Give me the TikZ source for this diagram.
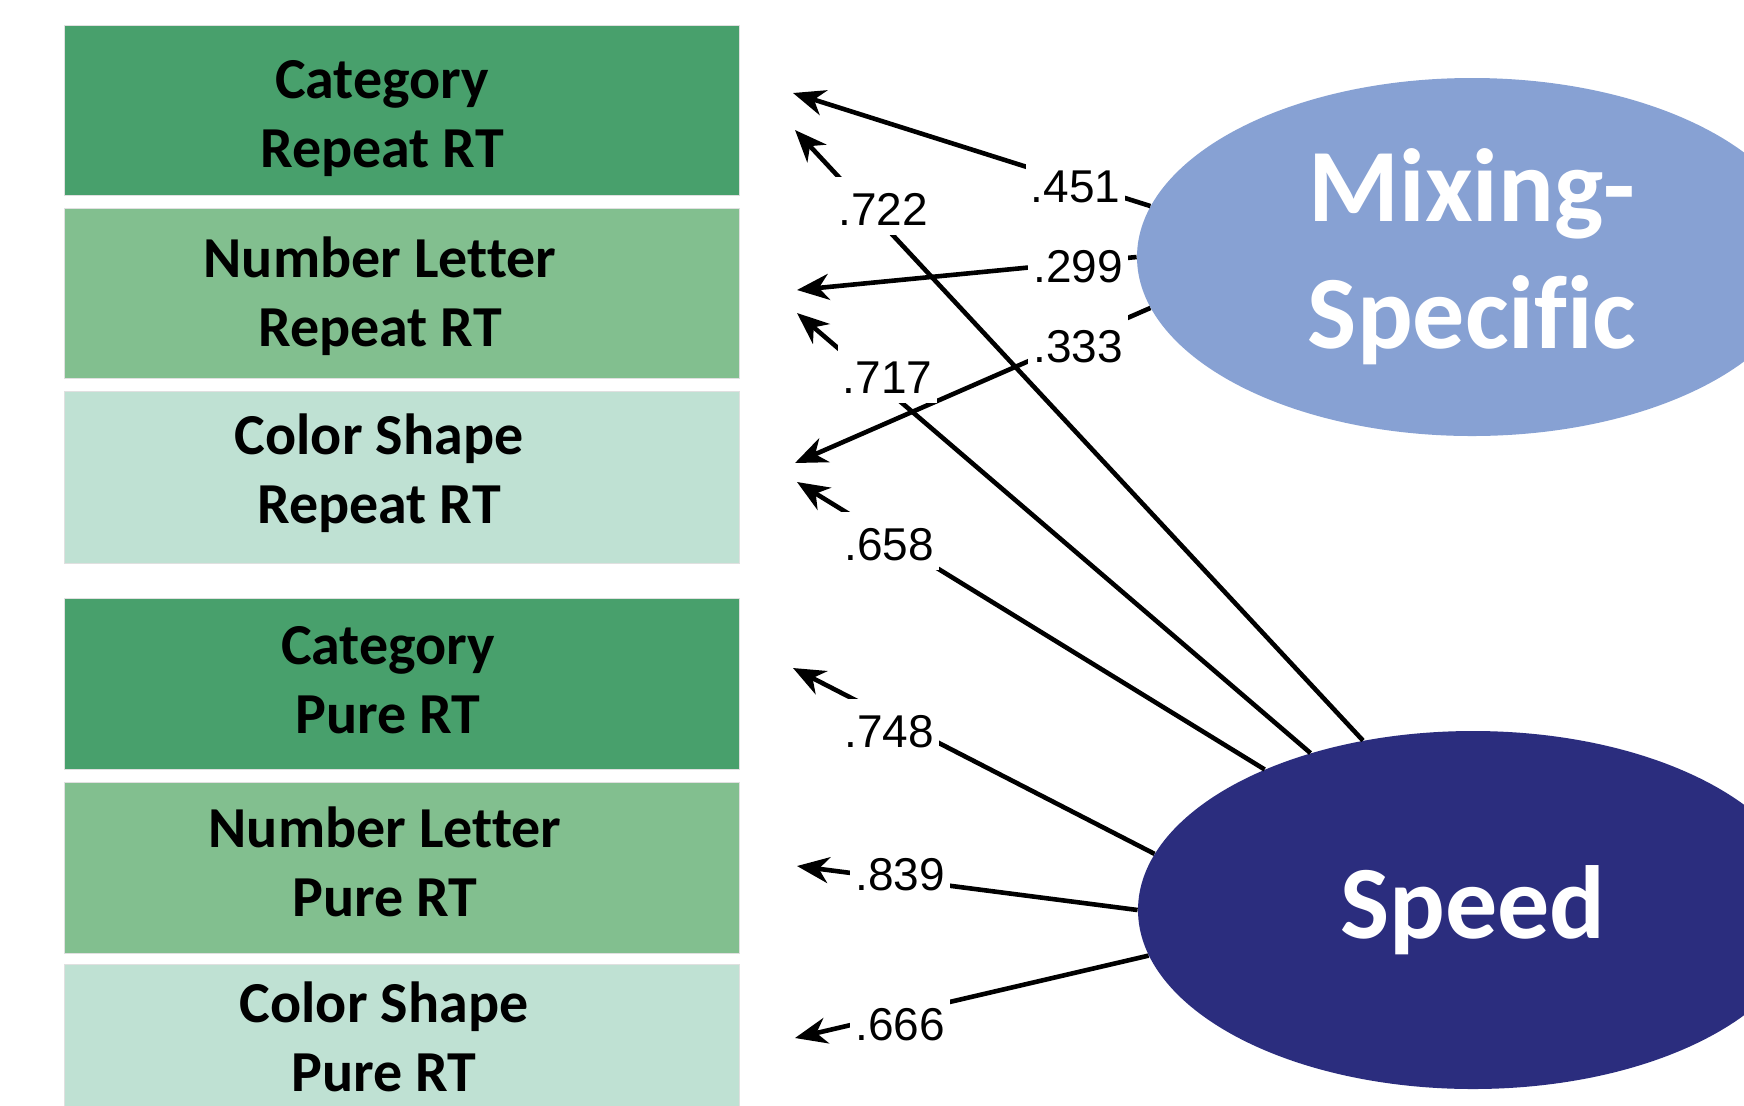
\documentclass[tikz,border=0pt]{standalone}
\usepackage{fontspec}
\setmainfont{Carlito}[Ligatures=NoCommon]
\newfontfamily\lblfont{Liberation Sans}
\usetikzlibrary{arrows.meta,shapes.geometric}
\definecolor{gdark}{RGB}{72,160,108}
\definecolor{gmid}{RGB}{130,191,143}
\definecolor{glight}{RGB}{191,225,211}
\definecolor{mixblue}{RGB}{135,161,211}
\definecolor{speednavy}{RGB}{43,45,126}
\tikzset{
  boxnode/.style={rectangle, draw=black!12, line width=0.5pt, minimum width=337.5pt, inner sep=0pt, anchor=north west},
  boxtext/.style={align=center, font=\bfseries\fontsize{29pt}{34.5pt}\selectfont, anchor=base, inner sep=0pt},
  latent/.style={ellipse, minimum width=335pt, minimum height=179pt, inner sep=0pt, text=white, align=center, font=\bfseries\fontsize{52pt}{63.5pt}\selectfont},
  pathline/.style={line width=2.3pt, -{Stealth[length=16pt, width=13pt, inset=5pt]}},
  coef/.style={fill=white, font=\lblfont\fontsize{23pt}{27pt}\selectfont, text height=24pt, text depth=5pt, inner xsep=2.5pt, inner ysep=0pt, anchor=base}
}
\begin{document}
\begin{tikzpicture}[x=0.5pt, y=-0.5pt]
\useasboundingbox (0,0) rectangle (1744,1105);
\fill[white] (0,0) rectangle (1744,1105);
\clip (0,0) rectangle (1744,1105);

% observed variables
\node[boxnode, fill=gdark,  minimum height=85.25pt] (b1) at (63.5,24.5) {};
\node[boxnode, fill=gmid,   minimum height=85.25pt] (b2) at (63.5,207.5) {};
\node[boxnode, fill=glight, minimum height=86pt]    (b3) at (63.5,390.5) {};
\node[boxnode, fill=gdark,  minimum height=85.75pt] (b4) at (63.5,597.5) {};
\node[boxnode, fill=gmid,   minimum height=85.75pt] (b5) at (63.5,781.5) {};
\node[boxnode, fill=glight, minimum height=100pt]   (b6) at (63.5,964) {};

% (base anchor = baseline of the last line)
\node[boxtext] (t1) at (382,167.2)  {Category\\Repeat RT};
\node[boxtext] (t2) at (380,346.3)  {Number Letter\\Repeat RT};
\node[boxtext] (t3) at (379,523)    {Color Shape\\Repeat RT};
\node[boxtext] (t4) at (388,733.8)  {Category\\Pure RT};
\node[boxtext] (t5) at (385,916.3)  {Number Letter\\Pure RT};
\node[boxtext] (t6) at (384,1091.8) {Color Shape\\Pure RT};

% latent variables
\node[latent, fill=mixblue]   (mix)   at (1472,257) {Mixing-\\Specific};
\node[latent, fill=speednavy] (speed) at (1473,910) {Speed};

% arrow tips
\coordinate (p451) at (793,93);
\coordinate (p722) at (795,130);
\coordinate (p299) at (797,290);
\coordinate (p717) at (797,313);
\coordinate (p333) at (795,463);
\coordinate (p658) at (797,482);
\coordinate (p748) at (793,668);
\coordinate (p839) at (797,866);
\coordinate (p666) at (795,1038);

% loadings
\draw[pathline] (mix.171.3) -- (p451);
\draw[pathline] (mix.180)   -- (p299);
\draw[pathline] (mix.189.6) -- (p333);
\draw[pathline] (speed.123.7) -- (p722);
\draw[pathline] (speed.136.4) -- (p717);
\draw[pathline] (speed.146.1) -- (p658);
\draw[pathline] (speed.170.4) -- (p748);
\draw[pathline] (speed.180)   -- (p839);
\draw[pathline] (speed.188.9) -- (p666);

% coefficient labels
\node[coef] (c451) at (1075.5,202) {.451};
\node[coef] (c299) at (1078,282)   {.299};
\node[coef] (c333) at (1078,362)   {.333};
\node[coef] (c722) at (883,225)    {.722};
\node[coef] (c717) at (887.5,393)  {.717};
\node[coef] (c658) at (889,560)    {.658};
\node[coef] (c748) at (889,747)    {.748};
\node[coef] (c839) at (900,890)    {.839};
\node[coef] (c666) at (900,1040)   {.666};
\end{tikzpicture}
\end{document}
